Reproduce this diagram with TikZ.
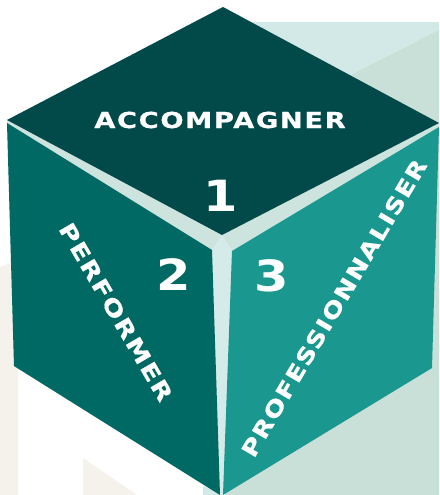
\documentclass[tikz,border=0pt]{standalone}
\usepackage{graphicx}
\usepackage{fontspec}
\newfontfamily\capfont[LetterSpace=6,BoldFont={DejaVu Sans Bold},BoldFeatures={FakeBold=0.6}]{DejaVu Sans}
\newfontfamily\digfont[BoldFont={DejaVu Sans Bold}]{DejaVu Sans}
\definecolor{topc}{HTML}{024A4A}
\definecolor{leftc}{HTML}{006963}
\definecolor{rightc}{HTML}{1A988F}
\definecolor{gapc}{HTML}{CDE3DE}
\definecolor{gapv}{HTML}{D4EBEA}
\definecolor{mintl}{HTML}{D2E9E7}
\definecolor{mintd}{HTML}{C9E0D8}
\definecolor{beige}{HTML}{F5F2EC}
\begin{document}
\begin{tikzpicture}[x=1pt,y=-1pt,
  lbl/.style={text=white, inner sep=0pt, font=\capfont\bfseries\fontsize{22}{26}\selectfont},
  dig/.style={text=white, inner sep=0pt, font=\digfont\bfseries\fontsize{43}{50}\selectfont}]
\useasboundingbox (0,0) rectangle (439,495);
% background
\fill[white] (0,0) rectangle (439,495);
\fill[mintl] (225,22) rectangle (439,495);
\fill[mintd] (439,30) -- (357,72) -- (225,140) -- (225,495) -- (439,495) -- cycle;
\fill[mintl] (203,495) -- (203,486) -- (225,495) -- cycle;
\fill[beige] (0,267) -- (18,260) -- (18,495) -- (0,495) -- cycle;
\fill[beige] (83,458) -- (137,495) -- (83,495) -- cycle;
% cube silhouette (gaps)
\fill[gapc] (223,7) -- (439,123) -- (439,127) -- (432,368) -- (223,495) -- (220,495) -- (14,366) -- (7,121) -- cycle;
\fill[gapv] (222,235) -- (212,250) -- (220,495) -- (223,495) -- (232,251) -- cycle;
% faces
\fill[topc] (223,7) -- (439,123) -- (222,235) -- (7,120) -- cycle;
\fill[leftc] (7,123) -- (212,250) -- (220,495) -- (14,366) -- cycle;
\fill[rightc] (232,251) -- (439,127) -- (432,368) -- (223,495) -- cycle;
% labels
\node[lbl] (acc) at (220,120) {\scalebox{1.24}[1]{ACCOMPAGNER}};
\node[lbl, rotate=-59.7] (perf) at (116,312) {\scalebox{1.24}[1]{PERFORMER}};
\node[lbl, rotate=59.4] (prof) at (334,308) {\scalebox{1.2}[1]{PROFESSIONNALISER}};
\node[dig] (n1) at (221,196) {\scalebox{1.15}[1]{1}};
\node[dig] (n2) at (174,275) {\scalebox{1.15}[1]{2}};
\node[dig] (n3) at (272,276) {\scalebox{1.15}[1]{3}};
\end{tikzpicture}
\end{document}
